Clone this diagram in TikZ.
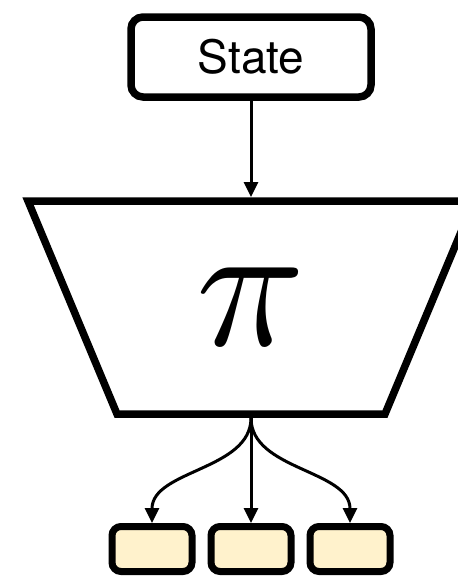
\documentclass[tikz,border=0pt]{standalone}
\usepackage{fontspec}
\setsansfont{TeX Gyre Heros}
\usetikzlibrary{arrows.meta}
\definecolor{outfill}{RGB}{255,242,204}
\tikzset{
  statebox/.style={draw, line width=7.5pt, rounded corners=12pt, fill=white,
    minimum width=240pt, minimum height=80pt, inner sep=0pt,
    font=\sffamily\fontsize{46}{46}\selectfont},
  outbox/.style={draw, line width=7pt, rounded corners=9pt, fill=outfill,
    minimum width=80pt, minimum height=45pt, inner sep=0pt},
  netline/.style={line width=7.5pt, line join=miter},
  link/.style={->, line width=3pt}
}
\begin{document}
\begin{tikzpicture}[x=1pt, y=-1pt, >={Triangle[length=15pt,width=14pt]}]
\useasboundingbox (0,0) rectangle (458,576);
\clip (0,0) rectangle (458,576);
\def\midx{251} % trục giữa
% trạng thái
\node[statebox] (state) at (\midx,57) {State};
% mạng chính sách
\draw[netline] (28,201) -- (474,201) -- (385,414) -- (117,414) -- cycle;
\node[inner sep=0pt, scale=18] (pi) at (\midx,307) {$\pi$};
\coordinate (in) at (\midx,197);
\coordinate (out) at (\midx,418);
% đầu ra
\foreach \i/\x in {1/152,2/251,3/350}
  \node[outbox] (a\i) at (\x,549) {};
\draw[link] (state) -- (in);
\draw[link] (out) -- (a2);
\draw[link] (out) .. controls +(0,52) and +(0,-53) .. (a1.north);
\draw[link] (out) .. controls +(0,52) and +(0,-53) .. (a3.north);
\end{tikzpicture}
\end{document}
